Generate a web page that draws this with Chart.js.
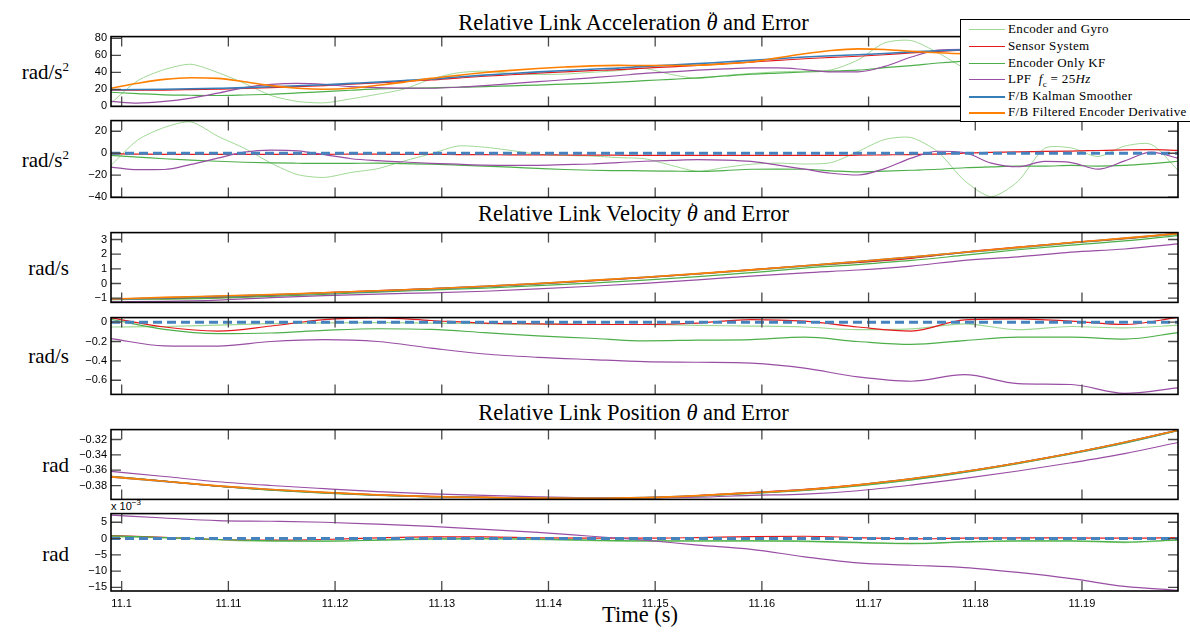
<!DOCTYPE html>
<html>
<head>
<meta charset="utf-8">
<script src="https://cdn.jsdelivr.net/npm/chart.js@4.4.1/dist/chart.umd.min.js"></script>
<style>
  body { margin: 0; background: #fff; }
  #fig { position: relative; width: 1190px; height: 635px; overflow: hidden; font-family: "Liberation Serif", "DejaVu Serif", serif; color: #000; }
  #fig canvas { position: absolute; left: 0; }
  .ttl { position: absolute; left: 111px; width: 1045px; text-align: center; font-family: "Liberation Serif", serif; font-size: 22.5px; line-height: 26px; white-space: nowrap; }
  .ylab { position: absolute; right: 1121px; font-size: 21px; line-height: 1; white-space: nowrap; transform: translateY(-50%); }
  .ylab sup { font-size: 13px; vertical-align: 8px; line-height: 0; }
  .mark { position: relative; display: inline-block; }
  .mark b { position: absolute; left: 0; right: 0; top: -5px; text-align: center; font-weight: normal; font-style: normal; font-size: 17px; }
  #legend { position: absolute; left: 960px; top: 19px; width: 260px; height: 101px; border: 1.5px solid #000; background: #fff; z-index: 5; }
  #legend .row { position: absolute; left: 0; height: 16px; font-size: 13px; letter-spacing: 0.35px; white-space: nowrap; }
  #legend .row span.ln { position: absolute; left: 8px; top: 8px; width: 36px; }
  #legend .row span.tx { position: absolute; left: 47px; top: 0; line-height: 16px; }
  #scale { position: absolute; left: 111px; top: 498px; font-family: "Liberation Sans", sans-serif; font-size: 11px; }
  #scale sup { font-size: 8px; vertical-align: 5px; }
</style>
</head>
<body>
<div id="fig">
  <div class="ttl" style="top:10px">Relative Link Acceleration <span class="mark"><i>θ</i><b>¨</b></span> and Error</div>
  <div class="ttl" style="top:201px">Relative Link Velocity <span class="mark"><i>θ</i><b>˙</b></span> and Error</div>
  <div class="ttl" style="top:400px">Relative Link Position <i>θ</i> and Error</div>
  <div class="ttl" style="top:602px; width:1058px">Time (s)</div>
  <div class="ylab" style="top:72px">rad/s<sup>2</sup></div>
  <div class="ylab" style="top:160px">rad/s<sup>2</sup></div>
  <div class="ylab" style="top:268px">rad/s</div>
  <div class="ylab" style="top:356px">rad/s</div>
  <div class="ylab" style="top:465px">rad</div>
  <div class="ylab" style="top:554px">rad</div>
  <div id="scale">x 10<sup>−3</sup></div>
  <div id="legend"></div>
</div>
<script>
// time bases (s)
const tFine = [11.099, 11.1015, 11.104, 11.1065, 11.109, 11.1115, 11.114, 11.1165, 11.119, 11.1215,
  11.124, 11.1265, 11.129, 11.1315, 11.134, 11.1365, 11.139, 11.1415, 11.144, 11.1465,
  11.149, 11.1515, 11.154, 11.1565, 11.159, 11.1615, 11.164, 11.1665, 11.169, 11.1715,
  11.174, 11.1765, 11.179, 11.1815, 11.184, 11.1865, 11.189, 11.1915, 11.194, 11.1965, 11.199];
const tCoarse = [11.099, 11.104, 11.109, 11.114, 11.119, 11.124, 11.129, 11.134, 11.139, 11.144,
  11.149, 11.154, 11.159, 11.164, 11.169, 11.174, 11.179, 11.184, 11.189, 11.194, 11.199];
const tEnds = [11.099, 11.199];

const timeTicks = [11.1, 11.11, 11.12, 11.13, 11.14, 11.15, 11.16, 11.17, 11.18, 11.19];
const timeTickLabels = ['11.1', '11.11', '11.12', '11.13', '11.14', '11.15', '11.16', '11.17', '11.18', '11.19'];

const seriesNames = ['Encoder and Gyro', 'Sensor System', 'Encoder Only KF',
  'LPF&nbsp; <i>f</i><sub style="font-size:9px">c</sub> = 25<i>Hz</i>', 'F/B Kalman Smoother', 'F/B Filtered Encoder Derivative'];

// acceleration (rad/s^2), fine time base
const accGyro = [3.9, 30.2, 43.3, 49.5, 39.8, 27.1, 12.8, 5.8, 4.2, 8.9, 14.3, 20.5, 32.1, 39.4, 41.4, 38.7, 37.5, 38, 40, 42,
  44.5, 37.5, 32.9, 36.3, 38.7, 40.6, 41.4, 42.9, 54.5, 74.6, 77.3, 63, 44.5, 28, 43, 74, 75.3, 68.5, 79, 80, 59];
const accSensor = [19, 19, 19.2, 19.7, 20.3, 21, 22, 23.2, 24.5, 26.1, 27.6, 29.5, 31.1, 33.3, 35.4, 37.2, 39.1, 40.6, 42, 43.2,
  45, 46.5, 48.2, 50.2, 52.1, 54, 56, 57.5, 58.9, 60.7, 62.8, 64.5, 66.5, 68.3, 69.8, 71.1, 72.5, 74, 75.5, 76.7, 77.1];
const accEncKF = [16.6, 15, 13.6, 13.1, 12.8, 13.4, 14.3, 15.8, 17.4, 19, 20.5, 21.2, 21.8, 22.5, 23.2, 24.2, 25.1, 26.1, 27.1, 28.5,
  30.2, 31.8, 33.5, 35.7, 37.9, 39.2, 40.4, 41.5, 42.5, 45.5, 48, 51, 53.3, 55, 56.5, 57.8, 59, 60.3, 61.5, 64, 67.2];
const accLPF = [5.8, 3.9, 5.8, 9.7, 15.5, 22, 25.9, 27.1, 25.9, 23.2, 22, 21.5, 21.3, 22.5, 24.4, 26.7, 29, 31.3, 33.6, 36,
  38.7, 40.6, 42.5, 44, 45.2, 45.2, 43.3, 40.6, 40.6, 47, 58, 66, 67, 58.5, 56.2, 62, 62, 57, 65.5, 74.5, 70];
const accKS = [19.5, 19.8, 20.2, 20.7, 21.3, 22, 23, 24.2, 25.5, 27, 28.5, 30.5, 32.1, 34.5, 36.7, 38.7, 40.6, 42.2, 43.7, 45,
  47, 48.5, 50.2, 52.2, 54.1, 56, 58, 59.5, 60.7, 62.2, 64, 65.3, 66.5, 67.5, 68.5, 69.5, 70.5, 71.5, 72.5, 73.5, 74.5];
const accFBD = [21.3, 27.1, 31.7, 33.6, 32.9, 29, 24.4, 21.3, 20.1, 21.3, 24.8, 28.5, 32.9, 36.5, 39.8, 42.3, 44.5, 46.2, 47.6, 48.2,
  48, 48, 48.3, 50, 52.2, 57, 61.8, 65.7, 67.6, 66.9, 64.8, 63, 61.8, 61.5, 61.5, 62.5, 64, 66, 68, 70, 72];

// acceleration error (rad/s^2), fine time base
const accErrGyro = [-11, 12, 23.5, 28.5, 15.5, 4.5, -9, -19.5, -22, -17.5, -14, -7, -0.5, 6.5, 5.5, 2.5, -1, -2, -2.5, -4,
  -5, -11, -16.5, -13, -10, -9, -9.8, -8.5, 1.5, 12.5, 14.2, 1.2, -25, -39.5, -25.6, 4.5, 4.8, -3, 6.5, 8, -15.5];
const accErrSensor = [-0.5, -0.8, -1, -1, -1, -1, -1, -1, -1, -0.9, -0.9, -1, -1, -1.2, -1.3, -1.5, -1.5, -1.6, -1.7, -1.8,
  -2, -2, -2, -2, -2, -2, -2, -2, -1.8, -1.5, -1.2, -0.8, 0, 0.8, 1.3, 1.6, 2, 2.5, 3, 3.2, 2.6];
const accErrEncKF = [-2, -3.5, -5, -6.2, -7.3, -8.2, -8.8, -9.1, -9.3, -9.2, -9, -9.5, -10, -10.8, -11.7, -12.7, -13.8, -14.8, -15.5, -15.8,
  -16, -16.3, -16.6, -15.8, -14.6, -14.5, -14.6, -16, -17, -16.3, -15.5, -14.6, -13.2, -12.4, -11.7, -11.7, -11.1, -11.7, -11.1, -9.4, -7.3];
const accErrLPF = [-12.6, -15, -14.8, -10.2, -4.5, 1, 2.9, 2.2, -1.3, -5, -6.8, -8, -9.2, -10, -10.8, -11.1, -11, -10.4, -9.8, -8.5,
  -7.3, -6.5, -5.8, -6.2, -7.5, -10.8, -14.5, -18.2, -19.8, -14, -4.5, 1.8, 0.5, -9, -12.3, -7.5, -8.5, -14.5, -7, 1, -4.5];
const errKS = [0, 0];

// velocity (rad/s), coarse time base
const velGyro = [-1.13, -1.03, -0.91, -0.79, -0.66, -0.53, -0.38, -0.22, -0.03, 0.18, 0.4, 0.63, 0.88, 1.15, 1.41, 1.73, 2.1, 2.37, 2.74, 3.02, 3.35];
const velSensor = [-1.04, -1.03, -0.97, -0.81, -0.62, -0.48, -0.35, -0.21, -0.03, 0.18, 0.4, 0.65, 0.95, 1.21, 1.44, 1.71, 2.14, 2.48, 2.79, 3.06, 3.43];
const velEncKF = [-1.05, -1.06, -1.0, -0.88, -0.74, -0.59, -0.45, -0.31, -0.15, 0.03, 0.23, 0.47, 0.74, 1.05, 1.29, 1.57, 1.93, 2.3, 2.62, 2.9, 3.27];
const velLPF = [-1.25, -1.22, -1.13, -0.97, -0.83, -0.72, -0.64, -0.53, -0.37, -0.19, 0.01, 0.25, 0.5, 0.73, 0.92, 1.19, 1.58, 1.82, 2.14, 2.35, 2.7];
const velKS = [-1.08, -0.98, -0.88, -0.77, -0.65, -0.52, -0.37, -0.2, -0.01, 0.2, 0.42, 0.66, 0.92, 1.2, 1.49, 1.8, 2.12, 2.45, 2.78, 3.08, 3.38];
const velFBD = [-1.06, -0.95, -0.85, -0.75, -0.63, -0.5, -0.36, -0.19, 0.0, 0.21, 0.43, 0.67, 0.93, 1.21, 1.5, 1.81, 2.13, 2.46, 2.79, 3.09, 3.4];

// velocity error (rad/s), coarse time base
const velErrGyro = [-0.05, -0.045, -0.03, -0.015, -0.008, -0.005, -0.01, -0.015, -0.02, -0.022, -0.024, -0.034, -0.04, -0.05, -0.078, -0.07, -0.017, -0.078, -0.045, -0.06, -0.03];
const velErrSensor = [0.044, -0.05, -0.092, -0.04, 0.027, 0.044, 0.017, -0.01, -0.017, -0.024, -0.024, -0.01, 0.027, 0.01, -0.05, -0.092, 0.024, 0.034, 0.01, -0.024, 0.05];
const velErrEncKF = [0.03, -0.075, -0.119, -0.112, -0.085, -0.068, -0.075, -0.108, -0.142, -0.166, -0.193, -0.186, -0.18, -0.155, -0.2, -0.23, -0.19, -0.155, -0.155, -0.175, -0.108];
const velErrLPF = [-0.17, -0.244, -0.247, -0.2, -0.18, -0.2, -0.268, -0.329, -0.363, -0.386, -0.407, -0.414, -0.424, -0.475, -0.566, -0.61, -0.542, -0.634, -0.644, -0.735, -0.678];

// position (rad), coarse time base
const posGyro = [-0.3682, -0.3743, -0.3809, -0.386, -0.3898, -0.3927, -0.3947, -0.3956, -0.3968, -0.3972, -0.3964, -0.394, -0.3902, -0.3864, -0.3805, -0.3728, -0.3629, -0.3514, -0.3388, -0.3249, -0.3085];
const posSensor = [-0.3679, -0.3741, -0.3808, -0.3857, -0.3893, -0.392, -0.394, -0.395, -0.3963, -0.3965, -0.3955, -0.3929, -0.3889, -0.3848, -0.3789, -0.3713, -0.3617, -0.3504, -0.3378, -0.3236, -0.3077];
const posEncKF = [-0.368, -0.3742, -0.3808, -0.3859, -0.3898, -0.3927, -0.3946, -0.3955, -0.3967, -0.3971, -0.3963, -0.3939, -0.3902, -0.3863, -0.3804, -0.3727, -0.3628, -0.3513, -0.3387, -0.3248, -0.3084];
const posLPF = [-0.3616, -0.3682, -0.375, -0.3799, -0.384, -0.3878, -0.3908, -0.3927, -0.3946, -0.3959, -0.3961, -0.3952, -0.3928, -0.3911, -0.3867, -0.3794, -0.3707, -0.361, -0.3503, -0.3384, -0.3239];
const posKS = [-0.3688, -0.3745, -0.3805, -0.3852, -0.389, -0.3922, -0.3945, -0.3955, -0.3965, -0.3966, -0.3956, -0.3932, -0.3895, -0.3855, -0.3792, -0.3712, -0.3618, -0.3506, -0.338, -0.3237, -0.308];
const posFBD = [-0.3687, -0.3744, -0.3804, -0.3851, -0.3889, -0.3921, -0.3944, -0.3954, -0.3964, -0.3967, -0.3957, -0.3931, -0.3894, -0.3854, -0.3791, -0.3711, -0.3617, -0.3505, -0.3379, -0.3236, -0.3079];

// position error (x 10^-3 rad), coarse time base
const posErrGyro = [0.6, 0.2, -0.4, -0.8, -0.8, -0.5, -0.2, -0.1, -0.3, -0.6, -0.8, -0.8, -0.7, -0.9, -1.3, -1.6, -1.1, -0.8, -0.8, -1.2, -0.5];
const posErrSensor = [0.9, 0.4, -0.3, -0.5, -0.3, 0.2, 0.5, 0.5, 0.2, 0.1, 0.1, 0.3, 0.6, 0.7, 0.3, -0.1, 0.1, 0.2, 0.2, 0.1, 0.3];
const posErrEncKF = [0.8, 0.3, -0.3, -0.7, -0.8, -0.5, -0.1, 0, -0.2, -0.5, -0.7, -0.7, -0.7, -0.8, -1.2, -1.5, -1.0, -0.7, -0.7, -1.1, -0.4];
const posErrLPF = [7.2, 6.3, 5.5, 5.3, 5.0, 4.4, 3.7, 2.8, 1.9, 0.7, -0.5, -2.0, -3.3, -5.6, -7.5, -8.2, -8.9, -10.4, -12.3, -14.7, -15.9];

// y ticks per panel
const accTicks = [0, 20, 40, 60, 80];
const accErrTicks = [-40, -20, 0, 20];
const velTicks = [-1, 0, 1, 2, 3];
const velErrTicks = [-0.6, -0.4, -0.2, 0];
const posTicks = [-0.38, -0.36, -0.34, -0.32];
const posErrTicks = [-15, -10, -5, 0, 5];

const C_GYRO = '#9fd894', C_SENS = '#e41a1c', C_KF = '#4daf4a', C_LPF = '#984ea3', C_KS = '#377eb8', C_FBD = '#ff7f00';

function pts(t, v) { return v.map((y, i) => ({ x: t[i], y: y })); }
// smooth: 'm' monotone cubic, number = bezier tension
function line(t, v, color, width, order, smooth, dash) {
  return {
    data: pts(t, v), borderColor: color, borderWidth: width, order: order,
    pointRadius: 0, fill: false,
    cubicInterpolationMode: smooth === 'm' ? 'monotone' : 'default',
    tension: typeof smooth === 'number' ? smooth : 0,
    borderDash: dash || []
  };
}
function errZero() { return line(tEnds, errKS, '#4682be', 3, 1, 0, [9, 5]); }

const panels = [
  { top: 36, bottom: 106.7, min: 0, max: 82, ticks: accTicks, sets: [
    line(tFine, accGyro, C_GYRO, 1, 6, 0.25), line(tFine, accSensor, C_SENS, 1.2, 5, 'm'),
    line(tFine, accEncKF, C_KF, 1.2, 4, 'm'), line(tFine, accLPF, C_LPF, 1.2, 3, 'm'),
    line(tFine, accKS, C_KS, 1.6, 2, 'm'), line(tFine, accFBD, C_FBD, 1.6, 1, 'm')] },
  { top: 120.3, bottom: 198, min: -40.2, max: 29.7, ticks: accErrTicks, sets: [
    line(tFine, accErrGyro, C_GYRO, 1, 6, 0.25), line(tFine, accErrSensor, C_SENS, 1.2, 5, 'm'),
    line(tFine, accErrEncKF, C_KF, 1.2, 4, 'm'), line(tFine, accErrLPF, C_LPF, 1.2, 3, 'm'), errZero()] },
  { top: 232.3, bottom: 303.3, min: -1.29, max: 3.47, ticks: velTicks, sets: [
    line(tCoarse, velGyro, C_GYRO, 1, 6, 'm'), line(tCoarse, velSensor, C_SENS, 1.2, 5, 'm'),
    line(tCoarse, velEncKF, C_KF, 1.2, 4, 'm'), line(tCoarse, velLPF, C_LPF, 1.2, 3, 'm'),
    line(tCoarse, velKS, C_KS, 1.6, 2, 'm'), line(tCoarse, velFBD, C_FBD, 1.6, 1, 'm')] },
  { top: 316.7, bottom: 394.3, min: -0.746, max: 0.047, ticks: velErrTicks, sets: [
    line(tCoarse, velErrGyro, C_GYRO, 1.2, 6, 'm'), line(tCoarse, velErrSensor, C_SENS, 1.2, 5, 'm'),
    line(tCoarse, velErrEncKF, C_KF, 1.2, 4, 'm'), line(tCoarse, velErrLPF, C_LPF, 1.2, 3, 'm'), errZero()] },
  { top: 428.7, bottom: 499.3, min: -0.398, max: -0.3071, ticks: posTicks, sets: [
    line(tCoarse, posGyro, C_GYRO, 1, 6, 'm'), line(tCoarse, posSensor, C_SENS, 1.2, 5, 'm'),
    line(tCoarse, posEncKF, C_KF, 1.2, 4, 'm'), line(tCoarse, posLPF, C_LPF, 1.2, 3, 'm'),
    line(tCoarse, posKS, C_KS, 1.6, 2, 'm'), line(tCoarse, posFBD, C_FBD, 1.6, 1, 'm')] },
  { top: 513, bottom: 591, min: -16.1, max: 7.65, ticks: posErrTicks, sets: [
    line(tCoarse, posErrGyro, C_GYRO, 1.4, 6, 'm'), line(tCoarse, posErrSensor, C_SENS, 1.2, 5, 'm'),
    line(tCoarse, posErrEncKF, C_KF, 1.2, 4, 'm'), line(tCoarse, posErrLPF, C_LPF, 1.2, 3, 'm'), errZero()] }
];

// box and inward ticks, MATLAB style
const frame = {
  id: 'frame',
  afterDatasetsDraw(chart) {
    const { ctx, chartArea: a, scales: { x, y } } = chart;
    ctx.save();
    ctx.strokeStyle = '#4a4a4a';
    ctx.lineWidth = 1.3;
    ctx.beginPath();
    timeTicks.forEach(t => {
      const px = x.getPixelForValue(t);
      ctx.moveTo(px, a.top); ctx.lineTo(px, a.top + 10);
      ctx.moveTo(px, a.bottom); ctx.lineTo(px, a.bottom - 10);
    });
    y.ticks.forEach(tk => {
      const py = y.getPixelForValue(tk.value);
      ctx.moveTo(a.left, py); ctx.lineTo(a.left + 10, py);
      ctx.moveTo(a.right, py); ctx.lineTo(a.right - 10, py);
    });
    ctx.stroke();
    ctx.strokeStyle = '#000';
    ctx.lineWidth = 1.6;
    ctx.strokeRect(a.left, a.top, a.right - a.left, a.bottom - a.top);
    ctx.restore();
  }
};

const fig = document.getElementById('fig');
const tickFont = { family: '"Liberation Sans", Arial, sans-serif', size: 11 };

panels.forEach((p, i) => {
  const last = i === panels.length - 1;
  const cv = document.createElement('canvas');
  const h = Math.round(p.bottom - p.top) + 10 + (last ? 30 : 10);
  cv.width = 1190; cv.height = h;
  cv.style.top = (p.top - 10) + 'px';
  fig.appendChild(cv);
  new Chart(cv, {
    type: 'line',
    data: { datasets: p.sets },
    options: {
      responsive: false, animation: false, devicePixelRatio: 1,
      layout: { padding: { left: 0, right: 12, top: 10, bottom: last ? 0 : 10 } },
      plugins: { legend: { display: false }, tooltip: { enabled: false } },
      scales: {
        x: {
          type: 'linear', min: 11.099, max: 11.199, display: last,
          grid: { display: false, drawTicks: false }, border: { display: false },
          afterBuildTicks: s => { s.ticks = timeTicks.map(v => ({ value: v })); },
          afterFit: s => { s.height = last ? 30 : 0; },
          ticks: { autoSkip: false, maxRotation: 0, padding: 6, color: '#000', font: tickFont,
            callback: (v, k) => timeTickLabels[k] }
        },
        y: {
          type: 'linear', min: p.min, max: p.max,
          grid: { display: false, drawTicks: false }, border: { display: false },
          afterBuildTicks: s => { s.ticks = p.ticks.map(v => ({ value: v })); },
          afterFit: s => { s.width = 111; },
          ticks: { autoSkip: false, padding: 4, color: '#000', font: tickFont,
            callback: v => String(v).replace('-', '\u2212') }
        }
      }
    },
    plugins: [frame]
  });
});

// legend
const legendColors = [C_GYRO, C_SENS, C_KF, C_LPF, C_KS, C_FBD];
const legendWidths = [1, 1.3, 1.3, 1.3, 2, 2.2];
const lg = document.getElementById('legend');
seriesNames.forEach((name, i) => {
  const row = document.createElement('div');
  row.className = 'row';
  row.style.top = (1.3 + i * 16.6) + 'px';
  row.innerHTML = '<span class="ln" style="border-top:' + legendWidths[i] + 'px solid ' + legendColors[i] + '"></span>' +
    '<span class="tx">' + name + '</span>';
  lg.appendChild(row);
});
</script>
</body>
</html>
